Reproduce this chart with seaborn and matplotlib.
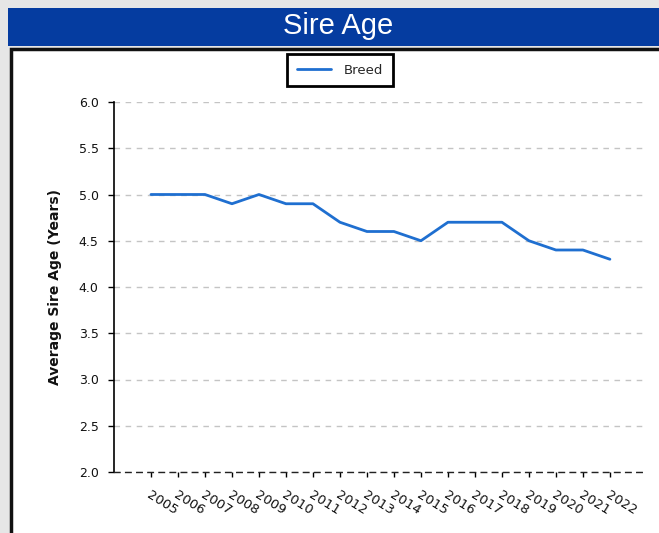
import matplotlib
matplotlib.use("Agg")
import matplotlib.pyplot as plt
from matplotlib.patches import Rectangle
import pandas as pd
import seaborn as sns

years = list(range(2005, 2023))
sire_age = [5.0, 5.0, 5.0, 4.9, 5.0, 4.9, 4.9, 4.7, 4.6, 4.6,
            4.5, 4.7, 4.7, 4.7, 4.5, 4.4, 4.4, 4.3]
y_ticks = [2.0, 2.5, 3.0, 3.5, 4.0, 4.5, 5.0, 5.5, 6.0]

df = pd.DataFrame({"Year": years, "Average Sire Age": sire_age, "Series": "Breed"})

sns.set_theme(style="white")
plt.rcParams["font.family"] = ["DejaVu Sans"]

W, H = 659, 533
fig = plt.figure(figsize=(W / 100, H / 100), dpi=100)
fig.patch.set_facecolor("#e6e6e6")

# header bar with the title
fig.patches.append(Rectangle((8 / W, 1 - 46 / H), 1, 38 / H, transform=fig.transFigure,
                             facecolor="#053ca0", edgecolor="none", zorder=-5))
fig.text(338 / W, 1 - 26 / H, "Sire Age", color="white", fontsize=21,
         family=["Liberation Sans", "DejaVu Sans"], ha="center", va="center")

# white panel with a black frame
fig.patches.append(Rectangle((10.5 / W, -0.1), 1.2, (1 - 49.5 / H) + 0.1,
                             transform=fig.transFigure, facecolor="white",
                             edgecolor="#111111", linewidth=2.5, zorder=-5))

ax = fig.add_axes([114 / W, 1 - 472 / H, (645 - 114) / W, (472 - 102) / H])
ax.set_facecolor("none")

sns.lineplot(data=df, x="Year", y="Average Sire Age", hue="Series",
             palette=["#1f6fd0"], linewidth=2, ax=ax)

ax.set_ylim(2.0, 6.0)
ax.set_yticks(y_ticks)
ax.set_yticklabels([f"{v:.1f}" for v in y_ticks])
ax.set_xlim(years[0] - 1.37, years[-1] + 1.3)
ax.set_xticks(years)
ax.set_xticklabels([str(y) for y in years])

ax.yaxis.grid(True, linestyle=(0, (4, 4)), color="#c4c4c4", linewidth=1)
ax.xaxis.grid(False)
ax.set_axisbelow(True)

for side in ("top", "right"):
    ax.spines[side].set_visible(False)
ax.spines["left"].set_color("black")
ax.spines["left"].set_linewidth(1.2)
ax.spines["bottom"].set_color("#222222")
ax.spines["bottom"].set_linewidth(1)
ax.spines["bottom"].set_linestyle((0, (4, 4)))

ax.tick_params(axis="y", which="major", left=True, length=4, width=1,
               color="black", labelsize=9, pad=7, labelcolor="#111111")
ax.tick_params(axis="x", which="major", bottom=True, length=3.6, width=1,
               color="black", labelsize=9.5, pad=8, labelcolor="#111111")

for lab in ax.get_xticklabels():
    lab.set_rotation(-32)
    lab.set_ha("left")
    lab.set_va("top")
    lab.set_rotation_mode("anchor")

ax.set_xlabel("")
ax.set_ylabel("Average Sire Age (Years)", fontsize=10, fontweight="bold",
              color="#111111", labelpad=12)

leg = ax.legend(loc="center", bbox_to_anchor=(340 / W, 1 - 70 / H),
                bbox_transform=fig.transFigure, frameon=True, fancybox=False,
                fontsize=9.5, handlelength=2.6, borderpad=0.75, handletextpad=1.0)
leg.get_frame().set_edgecolor("black")
leg.get_frame().set_linewidth(2)
leg.get_frame().set_facecolor("white")
leg.get_frame().set_alpha(1)
for h in leg.get_lines():
    h.set_linewidth(2)

fig.savefig("out.png", dpi=100, facecolor=fig.get_facecolor())
